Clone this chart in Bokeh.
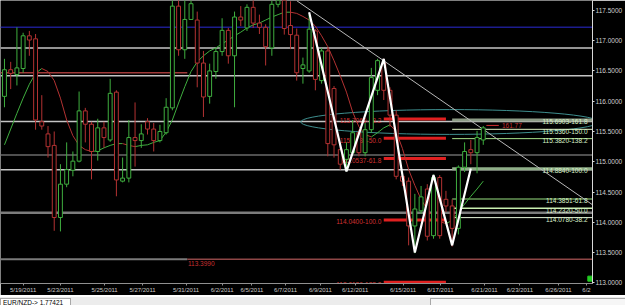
from bokeh.plotting import figure
from bokeh.models import (Range1d, FixedTicker, PrintfTickFormatter, CustomJSTickFormatter,
                          Label, Div, Span)
from bokeh.layouts import column
from bokeh.embed import file_html
from bokeh.resources import INLINE
from bokeh.core.properties import value

# ---------------- data ----------------
opens = [116.08, 116.52, 116.44, 116.54, 117.08, 117.03, 115.66, 115.46, 115.27, 114.08,
         114.63, 114.86, 115.01, 115.84, 115.62, 115.17, 115.56, 115.36, 116.15, 114.68,
         114.73, 115.40, 115.35, 115.66, 115.54, 115.35, 115.48, 115.89, 117.57, 116.85,
         117.35, 117.34, 116.63, 116.08, 116.49, 116.82, 117.17, 116.75, 117.39, 117.21,
         117.55, 117.29, 117.22, 116.88, 117.60, 117.70, 117.25, 117.09, 116.54, 116.50,
         117.16, 116.34, 116.83, 116.21, 115.20, 115.04, 115.15, 115.48, 115.15, 115.53,
         116.18, 116.63, 116.18, 115.77, 114.76, 114.68, 113.94, 114.19, 114.55, 113.78,
         114.74, 114.38, 114.27, 113.90, 114.91, 115.20, 115.15, 115.36]
highs = [116.70, 116.65, 117.22, 117.13, 117.16, 117.11, 116.10, 115.59, 115.50, 114.96,
         115.32, 115.17, 116.16, 115.89, 115.66, 115.71, 115.66, 116.37, 116.18, 115.07,
         115.69, 115.98, 115.62, 115.72, 115.64, 115.61, 116.05, 117.70, 117.70, 117.70,
         117.70, 117.48, 116.83, 116.62, 116.88, 117.37, 117.21, 117.48, 117.57, 117.60,
         117.70, 117.43, 117.27, 117.70, 117.78, 117.78, 117.65, 117.20, 116.72, 117.43,
         117.19, 116.88, 116.88, 116.25, 115.28, 115.32, 115.69, 115.53, 115.64, 116.55,
         116.70, 116.70, 116.23, 115.85, 114.82, 114.74, 114.47, 114.60, 114.63, 114.79,
         114.78, 114.52, 114.38, 114.94, 115.32, 115.36, 115.51, 115.59]
lows = [115.90, 116.20, 116.26, 116.47, 116.75, 115.53, 115.53, 115.07, 113.86, 113.85,
        114.58, 114.76, 114.99, 115.32, 114.71, 115.02, 115.23, 115.33, 114.43, 114.66,
        114.66, 114.92, 115.23, 115.45, 115.17, 115.32, 115.45, 115.85, 116.75, 116.70,
        117.35, 116.23, 115.74, 115.96, 116.37, 116.75, 116.62, 115.90, 117.24, 117.16,
        117.21, 117.11, 116.59, 116.75, 117.55, 117.10, 116.86, 116.34, 116.29, 116.47,
        116.18, 116.29, 115.09, 115.07, 114.87, 114.84, 115.12, 115.09, 115.09, 115.48,
        116.10, 116.02, 115.58, 114.71, 114.60, 113.62, 113.49, 114.14, 113.70, 113.73,
        113.73, 114.17, 113.60, 113.80, 114.83, 114.96, 114.81, 115.28]
closes = [116.52, 116.46, 116.55, 117.08, 117.01, 115.69, 115.59, 115.25, 114.08, 114.63,
          114.87, 115.01, 115.84, 115.62, 115.17, 115.56, 115.40, 116.13, 114.70, 114.73,
          115.40, 115.35, 115.46, 115.54, 115.35, 115.50, 115.90, 117.57, 116.85, 117.35,
          117.61, 116.63, 116.07, 116.50, 116.82, 117.17, 116.75, 117.39, 117.34, 117.55,
          117.29, 117.22, 116.90, 117.60, 117.70, 117.20, 117.10, 116.47, 116.60, 117.19,
          116.36, 116.83, 115.30, 115.28, 114.96, 115.20, 115.48, 115.15, 115.53, 116.39,
          116.67, 116.18, 115.77, 114.76, 114.68, 113.94, 114.22, 114.42, 113.77, 114.74,
          113.78, 114.27, 113.90, 114.91, 115.17, 115.15, 115.40, 115.56]
ma = [115.28, 115.54, 115.80, 116.05, 116.28, 116.46, 116.54, 116.49, 116.34, 116.05,
      115.69, 115.43, 115.27, 115.20, 115.17, 115.18, 115.23, 115.27, 115.30, 115.30,
      115.27, 115.25, 115.27, 115.28, 115.32, 115.35, 115.49, 115.69, 115.97, 116.24,
      116.49, 116.65, 116.75, 116.83, 116.88, 116.95, 117.01, 117.08, 117.14, 117.21,
      117.26, 117.29, 117.34, 117.39, 117.43, 117.47, 117.47, 117.45, 117.40, 117.34,
      117.24, 117.08, 116.90, 116.67, 116.42, 116.15, 115.82, 115.58, 115.45, 115.41,
      115.48, 115.56, 115.61, 115.50, 115.22, 114.87, 114.61, 114.38, 114.21, 114.09,
      114.01, 113.98, 114.03, 114.17, 114.30, 114.43, 114.55, 114.68]

date_pos = [3.0, 9.0, 16.1, 22.2, 29.2, 35.0, 39.8, 45.2, 50.8, 56.4, 64.1, 70.1, 77.2, 82.9, 89.1, 93.6]
date_labels = ["5/19/2011", "5/23/2011", "5/25/2011", "5/27/2011", "5/31/2011", "6/2/2011",
               "6/5/2011", "6/7/2011", "6/9/2011", "6/12/2011", "6/15/2011", "6/17/2011",
               "6/21/2011", "6/23/2011", "6/26/2011", "6/2"]
price_ticks = [113.0, 113.5, 114.0, 114.5, 115.0, 115.5, 116.0, 116.5, 117.0, 117.5]

level_blue = 117.22
levels_light = [116.88, 116.42, 115.665, 114.87]
levels_dark = [115.11]
levels_thick = [114.16]
resist_level = 116.47
support_level = 113.39
support_text = "113.3990"
split_idx = 29.4

zz_idx = [49, 55, 61, 66, 69, 72, 75]
zz_price = [117.47, 114.84, 116.70, 113.50, 114.78, 113.62, 114.89]

fib_red_levels = [115.7069, 115.3886, 115.0537, 114.0400, 113.0126]
fib_red_pcts = ["38.2", "50.0", "61.8", "100.0", "138.2"]
fib_green_levels = [115.6903, 115.5360, 115.3820, 114.8840, 114.3851, 114.2320, 114.0780]
fib_green_pcts = ["161.8", "150.0", "138.2", "100.0", "61.8", "50.0", "38.2"]
fib_green_colors = ["#8d9c86", "#e2f5c4", "#a6e08a", "#8fae88", "#98e080", "#c8eeb0", "#e6f4da"]
fib_green_widths = [3, 1, 1, 3, 1, 1.5, 1]

trend_idx = [47.0, 94.57]
trend_price = [117.66, 114.29]

ell_x, ell_y, ell_w, ell_h = 71.6, 115.657, 47.9, 0.41
last_price = 115.55
x_start, x_end = -0.64, 94.57
y_start, y_end = 112.99, 117.663

GREEN = "#3fae3f"
RED = "#b33232"
FONT = "Liberation Sans"

# ---------------- figure ----------------
p = figure(width=625, height=295, output_backend="svg", toolbar_location=None,
           x_range=Range1d(x_start, x_end), y_range=Range1d(y_start, y_end),
           y_axis_location="right", min_border_left=0, min_border_right=0,
           min_border_top=0, min_border_bottom=0,
           background_fill_color="black", border_fill_color="black")
p.outline_line_color = None
p.grid.visible = False

# right price axis
ya = p.yaxis[0]
ya.ticker = FixedTicker(ticks=price_ticks)
ya.formatter = PrintfTickFormatter(format="%.4f")
ya.major_label_text_font = FONT
ya.major_label_text_font_size = "6.5px"
ya.major_label_text_color = "#d0d0d0"
ya.axis_line_color = "#d8d8d8"
ya.major_tick_line_color = "#d8d8d8"
ya.major_tick_out = 2
ya.major_tick_in = 0
ya.minor_tick_line_color = None
ya.major_label_standoff = 1

# bottom date axis
xa = p.xaxis[0]
xa.ticker = FixedTicker(ticks=date_pos)
xa.formatter = CustomJSTickFormatter(args=dict(labels=date_labels), code="return labels[index];")
xa.major_label_text_font = FONT
xa.major_label_text_font_size = "6px"
xa.major_label_text_color = "#c8c8c8"
xa.axis_line_color = "#909090"
xa.major_tick_line_color = "#909090"
xa.major_tick_out = 2
xa.major_tick_in = 0
xa.minor_tick_line_color = None
xa.major_label_standoff = 1

# horizontal levels
p.add_layout(Span(location=level_blue, dimension="width", line_color="#1c1c8e", line_width=1.5, level="underlay"))
for lv in levels_light:
    p.add_layout(Span(location=lv, dimension="width", line_color="#c4c4c4", line_width=1.5, level="underlay"))
for lv in levels_dark:
    p.add_layout(Span(location=lv, dimension="width", line_color="#6a6a6a", line_width=1.5, level="underlay"))
for lv in levels_thick:
    p.add_layout(Span(location=lv, dimension="width", line_color="#7c7c7c", line_width=2.5, level="underlay"))
p.segment(x0=[x_start], y0=[resist_level], x1=[split_idx], y1=[resist_level], line_color="#a03838", line_width=1.5)
p.segment(x0=[x_start], y0=[support_level], x1=[split_idx], y1=[support_level], line_color="#7a7a7a", line_width=2)
p.segment(x0=[split_idx], y0=[support_level], x1=[x_end], y1=[support_level], line_color="#8e4646", line_width=1.5)
p.text(x=[split_idx + 0.1], y=[support_level - 0.03], text=[support_text], text_font=value(FONT),
       text_font_size="6.5px", text_color="#c83030", text_baseline="top", text_align="left")

# ellipse
p.ellipse(x=[ell_x], y=[ell_y], width=[ell_w], height=[ell_h], fill_alpha=0,
          line_color="#3e8e8e", line_width=1)

# right (green) fib levels
gx0 = zz_idx[5]
for lv, col, w in zip(fib_green_levels, fib_green_colors, fib_green_widths):
    p.segment(x0=[gx0], y0=[lv], x1=[x_end], y1=[lv], line_color=col, line_width=w)
p.text(x=[x_end - 0.8] * len(fib_green_levels), y=[lv + 0.01 for lv in fib_green_levels],
       text=[f"{lv:.4f}-{pc}" for lv, pc in zip(fib_green_levels, fib_green_pcts)],
       text_font=value(FONT), text_font_size="6.5px", text_color="#d8f0c8",
       text_baseline="top", text_align="right")

# left (red) fib levels
rx0, rx1 = zz_idx[2], zz_idx[5] - 1
p.segment(x0=[rx0] * len(fib_red_levels), y0=fib_red_levels, x1=[rx1] * len(fib_red_levels),
          y1=fib_red_levels, line_color="#e02020", line_width=3)
p.text(x=[rx0 - 0.4] * len(fib_red_levels), y=[lv + 0.01 for lv in fib_red_levels],
       text=[f"{lv:.4f}-{pc}" for lv, pc in zip(fib_red_levels, fib_red_pcts)],
       text_font=value(FONT), text_font_size="6.5px", text_color="#d03030",
       text_baseline="top", text_align="right")

# trend line
p.line(trend_idx, trend_price, line_color="#b8b8b8", line_width=1)

# moving average (coloured by slope)
ma_x0 = list(range(len(ma) - 1))
ma_x1 = list(range(1, len(ma)))
ma_col = [GREEN if ma[i + 1] >= ma[i] else RED for i in range(len(ma) - 1)]
p.segment(x0=ma_x0, y0=ma[:-1], x1=ma_x1, y1=ma[1:], line_color=ma_col, line_width=1)

# candles
idx = list(range(len(opens)))
ccol = [GREEN if c >= o else RED for o, c in zip(opens, closes)]
p.segment(x0=idx, y0=highs, x1=idx, y1=lows, line_color=ccol, line_width=1)
p.vbar(x=idx, width=0.62, top=[max(o, c) for o, c in zip(opens, closes)],
       bottom=[min(o, c) for o, c in zip(opens, closes)], fill_color="black", line_color=ccol, line_width=1)

# zigzag
p.line(zz_idx, zz_price, line_color="white", line_width=2.2)

# arrow + text at last candle
p.segment(x0=[idx[-1] + 0.5], y0=[last_price + 0.05], x1=[idx[-1] + 2.5], y1=[last_price + 0.05],
          line_color="#d03030", line_width=1)
p.text(x=[idx[-1] + 3.0], y=[last_price + 0.05], text=["161.77"], text_font=value(FONT),
       text_font_size="6.5px", text_color="#c03030", text_baseline="middle", text_align="left")

# current price marker on the axis
p.add_layout(Label(x=x_end + 0.25, y=last_price, text=f"{last_price:.4f}", text_font=FONT,
                   text_font_size="6.5px", text_color="black", background_fill_color="white",
                   text_baseline="middle", y_offset=3))
# small green square at bottom right
p.scatter(x=[x_end - 0.35], y=[y_start + 0.08], marker="square", size=5, fill_color="#22cc22", line_color="#22cc22")

status = Div(text=(
    '<div style="position:relative;width:625px;height:10px;background:#ececec;overflow:hidden;">'
    '<div style="position:absolute;left:0;top:1px;width:71px;height:8px;background:#fff;'
    'border:1px solid #a8a8a8;font-family:\'Liberation Sans\';font-size:6.5px;line-height:8px;'
    'color:#000;padding-left:2px;">EUR/NZD-&gt; 1.77421</div>'
    '<div style="position:absolute;left:430px;top:1px;width:195px;height:9px;background:#f6f6f6;'
    'border-left:1px solid #a8a8a8;border-top:1px solid #a8a8a8;"></div>'
    '</div>'), width=625, height=10, margin=(0, 0, 0, 0))

layout = column(p, status, spacing=0)
open("out.html", "w").write(file_html(layout, INLINE))
